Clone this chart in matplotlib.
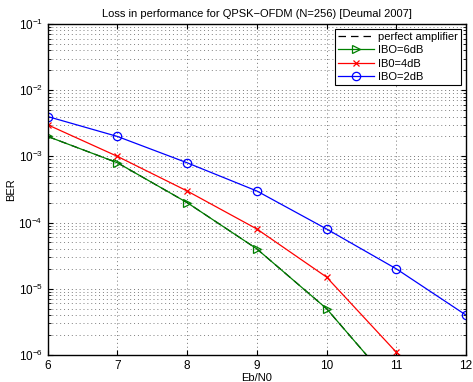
import numpy as np
import matplotlib
matplotlib.use('Agg')
import matplotlib.pyplot as plt

plt.rcParams['font.family'] = ['Liberation Sans', 'DejaVu Sans']
plt.rcParams['mathtext.default'] = 'regular'
plt.rcParams['font.size'] = 8

ebn0 = [6, 7, 8, 9, 10, 11, 12]
ber_perfect = [2e-3, 8e-4, 2e-4, 4e-5, 5e-6, 3e-7, 1e-8]   # hidden under IBO=6dB
ber_ibo6 = [2e-3, 8e-4, 2e-4, 4e-5, 5e-6, 3e-7, 1e-8]
ber_ibo4 = [3e-3, 1e-3, 3e-4, 8e-5, 1.5e-5, 1.1e-6, 1.5e-7]
ber_ibo2 = [4e-3, 2e-3, 8e-4, 3e-4, 8e-5, 2e-5, 4e-6]

fig = plt.figure(figsize=(4.73, 3.82), dpi=100)
ax = fig.add_axes([0.101, 0.071, 0.884, 0.866])

ax.semilogy(ebn0, ber_perfect, 'k', ls=(0, (6, 4)), lw=0.9, label='perfect amplifier')
ax.semilogy(ebn0, ber_ibo6, '->', color=(0, 0.5, 0), lw=0.9, ms=6, mfc='none', mew=0.9, label='IBO=6dB')
ax.semilogy(ebn0, ber_ibo4, '-x', color='r', lw=0.9, ms=5, mew=0.9, label='IB0=4dB')
ax.semilogy(ebn0, ber_ibo2, '-o', color='b', lw=0.9, ms=6, mfc='none', mew=0.9, label='IBO=2dB')

ax.set_xlim(6, 12)
ax.set_ylim(1e-6, 1e-1)
ax.set_xticks(ebn0)
ax.grid(True, which='major', ls=(0, (1, 3)), color='0.45', lw=0.7)
ax.grid(True, which='minor', axis='y', ls=(0, (1, 3)), color='0.5', lw=0.7)
ax.tick_params(which='both', direction='in', top=True, right=True, labelsize=8.5)
for s in ax.spines.values():
    s.set_linewidth(1.0)

ax.set_xlabel('Eb/N0', labelpad=1)
ax.set_ylabel('BER', labelpad=2)
ax.set_title('Loss in performance for QPSK\u2212OFDM (N=256) [Deumal 2007]', fontsize=8, pad=5)

leg = ax.legend(loc='upper right', fontsize=8, fancybox=False, framealpha=1,
                edgecolor='k', handlelength=3.2, borderaxespad=0.4, labelspacing=0.3,
                borderpad=0.3, handletextpad=0.4)
leg.get_frame().set_linewidth(0.8)

fig.savefig('out.png', dpi=100)
